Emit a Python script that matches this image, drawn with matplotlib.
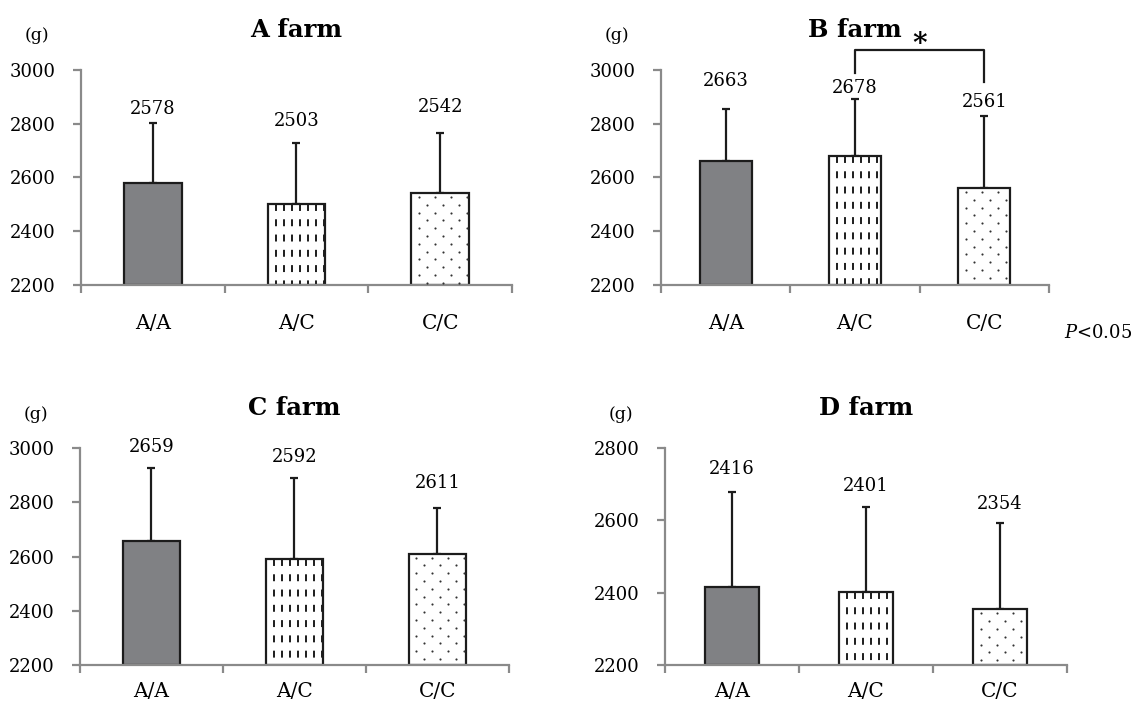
import numpy as np
import matplotlib.pyplot as plt
from matplotlib.transforms import blended_transform_factory

plt.rcParams['font.family'] = ['DejaVu Serif', 'Liberation Serif']
plt.rcParams['mathtext.fontset'] = 'dejavuserif'
plt.rcParams['lines.scale_dashes'] = False

genotypes = ['A/A', 'A/C', 'C/C']
farms = ['A farm', 'B farm', 'C farm', 'D farm']

mean_a = [2578, 2503, 2542]
sd_a = [225, 225, 224]
mean_b = [2663, 2678, 2561]
sd_b = [192, 214, 268]
mean_c = [2659, 2592, 2611]
sd_c = [267, 297, 168]
mean_d = [2416, 2401, 2354]
sd_d = [262, 236, 239]

ylims = [(2200, 3000), (2200, 3000), (2200, 3000), (2200, 2800)]
ysteps = [200, 200, 200, 200]

# value label offsets above the error cap (pixels)
label_off = [[14, 22, 26], [28, 11, 14], [21, 21, 25], [23, 21, 19]]
xpad = [21, 21, 12, 12]

rects = [[0.0711, 0.5975, 0.3784, 0.3037],
         [0.5803, 0.5975, 0.3407, 0.3037],
         [0.0702, 0.0607, 0.3766, 0.3065],
         [0.5838, 0.0607, 0.3529, 0.3065]]

fill_aa = '#808184'
edge = '#1c1c1c'
spine_c = '#8a8a8a'

fig = plt.figure(figsize=(11.39, 7.08), dpi=100)

means = [mean_a, mean_b, mean_c, mean_d]
sds = [sd_a, sd_b, sd_c, sd_d]


def dash_fill(ax, bar, ppx, ppy):
    x0, w = bar.get_x(), bar.get_width()
    y0, h = bar.get_y(), bar.get_height()
    step = 8 / ppx
    xs = np.arange(x0 + step, x0 + w - 0.5 / ppx, step)
    for x in xs:
        ln, = ax.plot([x, x], [y0 + h, y0], color=edge, lw=1.4,
                      dashes=(5, 6), solid_capstyle='butt')
        ln.set_clip_path(bar)


def dot_fill(ax, bar, ppx, ppy):
    x0, w = bar.get_x(), bar.get_width()
    y0, h = bar.get_y(), bar.get_height()
    pts_x, pts_y = [], []
    y = y0 + h - 4 / ppy
    row = 0
    while y > y0:
        start = 7.5 if row % 2 == 0 else 15.5
        xx = np.arange(start, w * ppx, 16) / ppx + x0
        pts_x += list(xx)
        pts_y += [y] * len(xx)
        y -= 7.8 / ppy
        row += 1
    sc = ax.scatter(pts_x, pts_y, s=2.4, color='#333333', lw=0, zorder=3)
    sc.set_clip_path(bar)


axes = []
for k in range(4):
    ax = fig.add_axes(rects[k])
    axes.append(ax)
    lo, hi = ylims[k]
    ax.set_xlim(-0.5, 2.5)
    ax.set_ylim(lo, hi)
    x = np.arange(3)
    bars = ax.bar(x, [m - lo for m in means[k]], bottom=lo, width=0.4,
                  color=[fill_aa, 'white', 'white'], edgecolor=edge,
                  linewidth=1.6, zorder=2)
    ax.errorbar(x, means[k], yerr=[[0, 0, 0], sds[k]], fmt='none',
                ecolor=edge, elinewidth=1.6, capsize=3.2, capthick=1.6,
                zorder=1)

    for s in ['top', 'right']:
        ax.spines[s].set_visible(False)
    for s in ['left', 'bottom']:
        ax.spines[s].set_color(spine_c)
        ax.spines[s].set_linewidth(1.6)

    ax.set_yticks(np.arange(lo, hi + 1, ysteps[k]))
    ax.tick_params(axis='y', direction='out', length=6, width=1.6,
                   color=spine_c, labelsize=13, pad=12)
    ax.set_xticks(x)
    ax.set_xticklabels(genotypes)
    ax.tick_params(axis='x', which='major', length=0, labelsize=14.5,
                   pad=xpad[k])
    ax.set_xticks([-0.5, 0.5, 1.5, 2.5], minor=True)
    ax.tick_params(axis='x', which='minor', direction='out', length=6,
                   width=1.6, color=spine_c)

    ax.set_title(farms[k], fontsize=17.5, fontweight='bold', pad=24)
    ax.annotate('(g)', xy=(0, 1), xycoords='axes fraction',
                xytext=(-44, 34), textcoords='offset pixels',
                ha='center', va='center', fontsize=12.5)

    for i in range(3):
        ax.annotate(str(means[k][i]), xy=(i, means[k][i] + sds[k][i]),
                    xytext=(0, label_off[k][i]), textcoords='offset pixels',
                    ha='center', va='center', fontsize=13)

    bb = ax.get_window_extent()
    ppx = bb.width / 3.0
    ppy = bb.height / (hi - lo)
    dash_fill(ax, bars[1], ppx, ppy)
    dot_fill(ax, bars[2], ppx, ppy)

# significance bracket on B farm (A/C vs C/C)
axb = axes[1]
hb = axb.get_window_extent().height
tr = blended_transform_factory(axb.transData, axb.transAxes)
axb.plot([1, 1, 2, 2], [1 - 3 / hb, 1 + 20 / hb, 1 + 20 / hb, 1 - 12 / hb],
         color=edge, lw=1.6, transform=tr, clip_on=False)
axb.text(1.5, 1 + 25 / hb, '*', transform=tr, ha='center', va='center',
         fontsize=20, fontweight='bold')
fig.text(1098 / 1139, 1 - 333 / 708, r'$P$<0.05', ha='center', va='center',
         fontsize=13)

fig.savefig('out.png', dpi=100)
